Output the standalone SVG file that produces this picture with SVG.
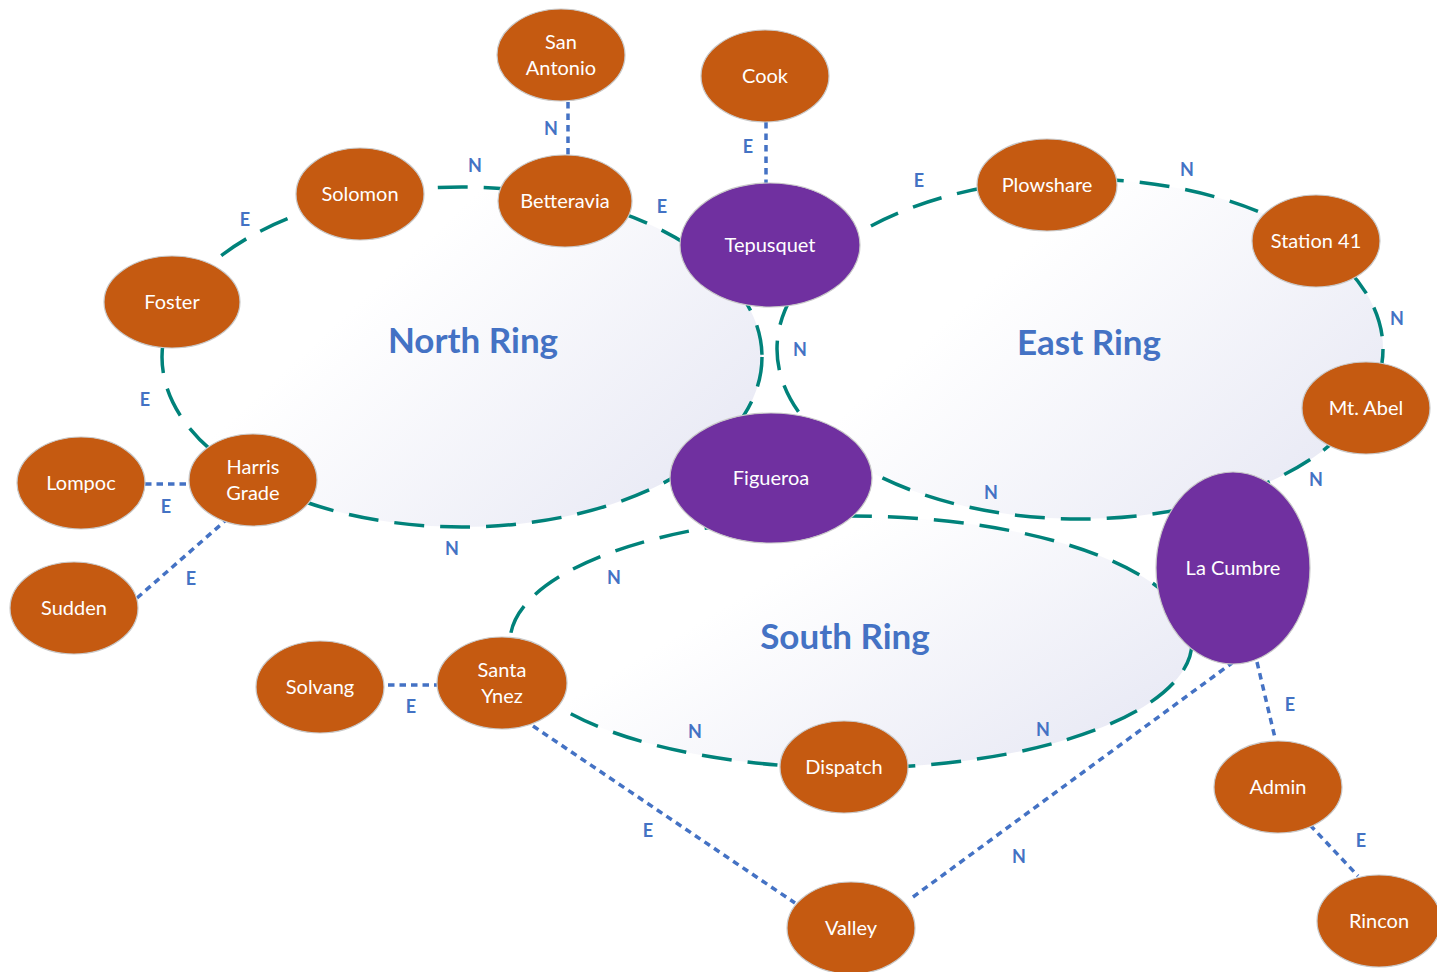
<svg xmlns="http://www.w3.org/2000/svg" width="1437" height="972" viewBox="0 0 1437 972">
<style>
.ring{fill:url(#rg);stroke:#00827a;stroke-width:3.5;stroke-dasharray:30 16}
.dot{fill:none;stroke:#4472c4;stroke-width:3.5;stroke-dasharray:6.5 5}
.o{fill:#c55a11;stroke:#c8c8c8;stroke-width:1.2}
.p{fill:#7030a0;stroke:#c8c8c8;stroke-width:1.2}
.t{font-family:Lato,"Liberation Sans",sans-serif;font-size:20px;fill:#fff;text-anchor:middle}
.l{font-family:Lato,"Liberation Sans",sans-serif;font-size:18px;font-weight:bold;fill:#4472c4;text-anchor:middle}
.title{font-family:Lato,"Liberation Sans",sans-serif;font-size:35px;font-weight:bold;fill:#4472c4;text-anchor:middle}
</style>
<defs>
<linearGradient id="rg" x1="0.35" y1="0.3" x2="1" y2="0.7">
<stop offset="0" stop-color="#ffffff"/>
<stop offset="1" stop-color="#e9eaf5"/>
</linearGradient>
</defs>
<rect width="1437" height="972" fill="#fff"/>
<g id="rings">
<ellipse class="ring" cx="462" cy="357" rx="300" ry="170"/>
<ellipse class="ring" cx="1080" cy="349" rx="303" ry="170"/>
<ellipse class="ring" cx="851" cy="642" rx="341" ry="126"/>
<text class="title" x="473" y="353">North Ring</text>
<text class="title" x="1089" y="355">East Ring</text>
<text class="title" x="845" y="649">South Ring</text>
</g>
<g id="connectors">
<line class="dot" x1="568" y1="102" x2="568" y2="156"/>
<line class="dot" x1="766" y1="122" x2="766" y2="186"/>
<line class="dot" x1="145" y1="484" x2="190" y2="484"/>
<line class="dot" x1="137" y1="598" x2="225" y2="521"/>
<line class="dot" x1="388" y1="685" x2="437" y2="685"/>
<line class="dot" x1="533" y1="726" x2="795" y2="903"/>
<line class="dot" x1="913" y1="897" x2="1232" y2="663"/>
<line class="dot" x1="1257" y1="662" x2="1275" y2="738"/>
<line class="dot" x1="1310" y1="825" x2="1358" y2="876"/>
</g>
<g id="n-sanantonio"><ellipse class="o" cx="561" cy="55" rx="64" ry="46"/><text class="t" x="561" y="49">San</text><text class="t" x="561" y="75">Antonio</text></g>
<g id="n-cook"><ellipse class="o" cx="765" cy="76" rx="64" ry="46"/><text class="t" x="765" y="83">Cook</text></g>
<g id="n-solomon"><ellipse class="o" cx="360" cy="194" rx="64" ry="46"/><text class="t" x="360" y="201">Solomon</text></g>
<g id="n-betteravia"><ellipse class="o" cx="565" cy="201" rx="67" ry="46"/><text class="t" x="565" y="208">Betteravia</text></g>
<g id="n-tepusquet"><ellipse class="p" cx="770" cy="245" rx="90" ry="62"/><text class="t" x="770" y="252">Tepusquet</text></g>
<g id="n-plowshare"><ellipse class="o" cx="1047" cy="185" rx="70" ry="46"/><text class="t" x="1047" y="192">Plowshare</text></g>
<g id="n-station41"><ellipse class="o" cx="1316" cy="241" rx="64" ry="46"/><text class="t" x="1316" y="248">Station 41</text></g>
<g id="n-foster"><ellipse class="o" cx="172" cy="302" rx="68" ry="46"/><text class="t" x="172" y="309">Foster</text></g>
<g id="n-mtabel"><ellipse class="o" cx="1366" cy="408" rx="64" ry="46"/><text class="t" x="1366" y="415">Mt. Abel</text></g>
<g id="n-figueroa"><ellipse class="p" cx="771" cy="478" rx="101" ry="65"/><text class="t" x="771" y="485">Figueroa</text></g>
<g id="n-harrisgrade"><ellipse class="o" cx="253" cy="480" rx="64" ry="46"/><text class="t" x="253" y="474">Harris</text><text class="t" x="253" y="500">Grade</text></g>
<g id="n-lompoc"><ellipse class="o" cx="81" cy="483" rx="64" ry="46"/><text class="t" x="81" y="490">Lompoc</text></g>
<g id="n-lacumbre"><ellipse class="p" cx="1233" cy="568" rx="77" ry="96"/><text class="t" x="1233" y="575">La Cumbre</text></g>
<g id="n-sudden"><ellipse class="o" cx="74" cy="608" rx="64" ry="46"/><text class="t" x="74" y="615">Sudden</text></g>
<g id="n-solvang"><ellipse class="o" cx="320" cy="687" rx="64" ry="46"/><text class="t" x="320" y="694">Solvang</text></g>
<g id="n-santaynez"><ellipse class="o" cx="502" cy="683" rx="65" ry="46"/><text class="t" x="502" y="677">Santa</text><text class="t" x="502" y="703">Ynez</text></g>
<g id="n-dispatch"><ellipse class="o" cx="844" cy="767" rx="64" ry="46"/><text class="t" x="844" y="774">Dispatch</text></g>
<g id="n-admin"><ellipse class="o" cx="1278" cy="787" rx="64" ry="46"/><text class="t" x="1278" y="794">Admin</text></g>
<g id="n-valley"><ellipse class="o" cx="851" cy="928" rx="64" ry="46"/><text class="t" x="851" y="935">Valley</text></g>
<g id="n-rincon"><ellipse class="o" cx="1379" cy="921" rx="62" ry="46"/><text class="t" x="1379" y="928">Rincon</text></g>
<g id="labels">
<text class="l" x="475" y="172">N</text>
<text class="l" x="245" y="226">E</text>
<text class="l" x="145" y="406">E</text>
<text class="l" x="452" y="555">N</text>
<text class="l" x="551" y="135">N</text>
<text class="l" x="748" y="153">E</text>
<text class="l" x="662" y="213">E</text>
<text class="l" x="919" y="187">E</text>
<text class="l" x="1187" y="176">N</text>
<text class="l" x="1397" y="325">N</text>
<text class="l" x="1316" y="486">N</text>
<text class="l" x="800" y="356">N</text>
<text class="l" x="991" y="499">N</text>
<text class="l" x="614" y="584">N</text>
<text class="l" x="695" y="738">N</text>
<text class="l" x="1043" y="736">N</text>
<text class="l" x="166" y="513">E</text>
<text class="l" x="191" y="585">E</text>
<text class="l" x="411" y="713">E</text>
<text class="l" x="648" y="837">E</text>
<text class="l" x="1019" y="863">N</text>
<text class="l" x="1290" y="711">E</text>
<text class="l" x="1361" y="847">E</text>
</g>
</svg>
